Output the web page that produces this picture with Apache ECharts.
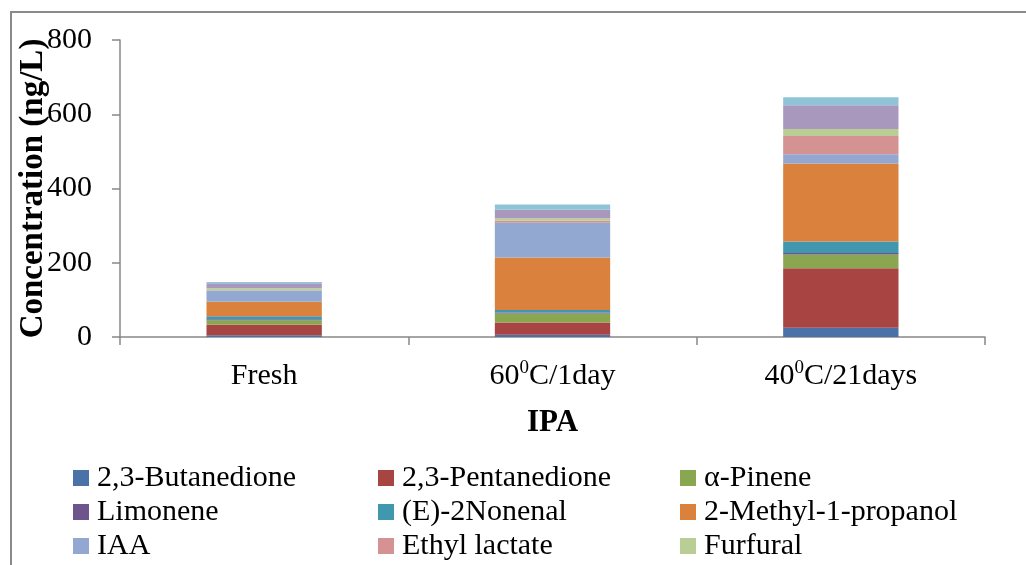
<!DOCTYPE html>
<html>
<head>
<meta charset="utf-8">
<script src="https://cdn.jsdelivr.net/npm/echarts@6/dist/echarts.min.js"></script>
<style>
html,body{margin:0;padding:0;background:#fff;}
#chart{width:1026px;height:565px;}
</style>
</head>
<body>
<div id="chart"></div>
<script>
// ---- data (ng/L) ----
var categories = ['Fresh', '60^0C/1day', '40^0C/21days'];
var butanedione    = [5, 6, 25];
var pentanedione   = [28, 33, 160];
var pinene         = [12, 24, 37];
var limonene       = [3, 3, 4.5];
var nonenal        = [8, 7, 31];
var methylpropanol = [39, 141, 210];
var iaa            = [30, 94, 25];
var ethylLactate   = [1, 5, 49];
var furfural       = [5, 7, 19];
var series10       = [14, 23, 64];
var series11       = [3, 14, 21];
var yTicks = [0, 200, 400, 600, 800];

var seriesNames = ['2,3-Butanedione', '2,3-Pentanedione', '\u03b1-Pinene', 'Limonene', '(E)-2Nonenal',
  '2-Methyl-1-propanol', 'IAA', 'Ethyl lactate', 'Furfural', 'Series10', 'Series11'];
var seriesData = [butanedione, pentanedione, pinene, limonene, nonenal, methylpropanol, iaa,
  ethylLactate, furfural, series10, series11];
var colors = ['#4A71A8', '#A84442', '#8AA651', '#6E548C', '#4097AE', '#DA823D',
  '#92A8D0', '#D49392', '#B9CE95', '#A998BE', '#8FC4D6'];

var FONT = 'Liberation Serif';

var chart = echarts.init(document.getElementById('chart'));

function legendCol(names, left) {
  return {
    orient: 'vertical', left: left, top: 463, padding: 0,
    data: names, icon: 'rect', itemWidth: 16, itemHeight: 16, itemGap: 4,
    selectedMode: false,
    textStyle: { fontFamily: FONT, fontSize: 30, color: '#000', lineHeight: 30, padding: [0, 0, 0, 3] }
  };
}

var option = {
  animation: false,
  backgroundColor: '#fff',
  color: colors,
  textStyle: { fontFamily: FONT },
  grid: { left: 120, right: 41, top: 40, bottom: 228, containLabel: false },
  legend: [
    legendCol([seriesNames[0], seriesNames[3], seriesNames[6]], 73),
    legendCol([seriesNames[1], seriesNames[4], seriesNames[7]], 378),
    legendCol([seriesNames[2], seriesNames[5], seriesNames[8]], 680)
  ],
  xAxis: {
    type: 'category',
    data: categories,
    name: 'IPA',
    nameLocation: 'middle',
    nameGap: 70,
    nameMoveOverlap: false,
    nameTextStyle: { fontFamily: FONT, fontSize: 31, fontWeight: 'bold', color: '#000' },
    axisLine: { lineStyle: { color: '#888', width: 1.5 } },
    axisTick: { show: true, length: 8, lineStyle: { color: '#888', width: 1.5 } },
    axisLabel: {
      margin: 22,
      formatter: function (v) {
        var parts = v.split('^0');
        if (parts.length === 1) return '{n|' + v + '}';
        return '{n|' + parts[0] + '}{s|0}{n|' + parts[1] + '}';
      },
      rich: {
        n: { fontFamily: FONT, fontSize: 30, color: '#000', lineHeight: 34 },
        s: { fontFamily: FONT, fontSize: 19, color: '#000', lineHeight: 34, verticalAlign: 'top', padding: [0, 0, 14, 0] }
      }
    }
  },
  yAxis: {
    type: 'value',
    min: yTicks[0], max: yTicks[yTicks.length - 1], interval: 200,
    name: 'Concentration (ng/L)',
    nameLocation: 'middle',
    nameGap: 70,
    nameMoveOverlap: false,
    nameTextStyle: { fontFamily: FONT, fontSize: 33, fontWeight: 'bold', color: '#000' },
    axisLine: { show: true, lineStyle: { color: '#888', width: 1.5 } },
    axisTick: { show: true, length: 8, lineStyle: { color: '#888', width: 1.5 } },
    splitLine: { show: false },
    axisLabel: { margin: 28, fontFamily: FONT, fontSize: 30, color: '#000' }
  },
  graphic: [{
    type: 'polyline',
    shape: { points: [[11, 600], [11, 12], [1030, 12]] },
    style: { stroke: '#8a8a8a', lineWidth: 2, fill: null },
    silent: true
  }],
  series: seriesNames.map(function (name, i) {
    return {
      name: name, type: 'bar', stack: 'total', barWidth: '40%',
      data: seriesData[i],
      itemStyle: { color: colors[i] }
    };
  })
};
chart.setOption(option);
</script>
</body>
</html>
